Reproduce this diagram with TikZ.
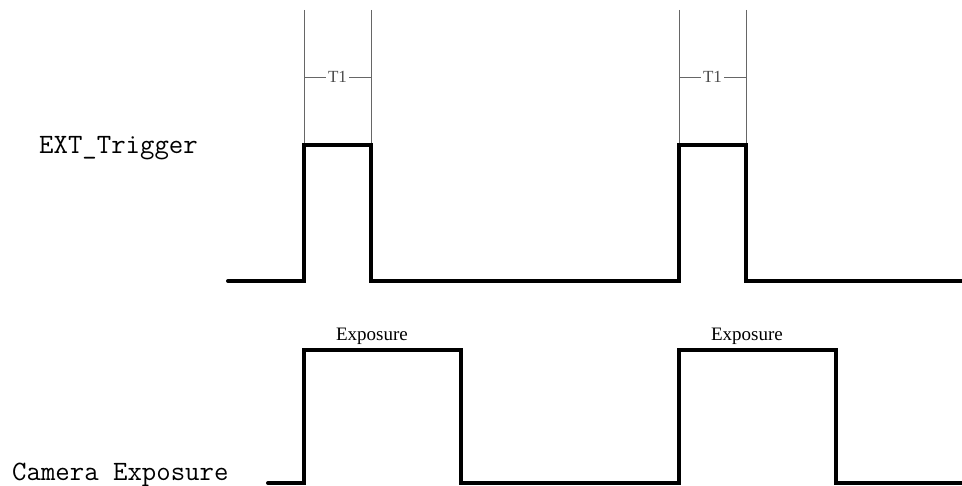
\documentclass[tikz,border=0pt]{standalone}
\usepackage{fontspec}
\setmainfont{Liberation Serif}
\begin{document}
\begin{tikzpicture}[x=1pt,y=-1pt,
    wave/.style={line width=4pt,line cap=round,line join=miter},
    guide/.style={gray!80!black,line width=0.8pt},
    signame/.style={font=\ttfamily\fontsize{28}{28}\selectfont,anchor=base west,inner sep=0pt},
    phase/.style={font=\fontsize{19}{19}\selectfont,anchor=base,inner sep=0pt},
    width/.style={font=\fontsize{17}{17}\selectfont,text=gray!60!black,fill=white,inner sep=2pt}]
  \useasboundingbox (0,0) rectangle (962,486);
  \draw
    (39,154) node[signame] (trig){EXT\_Trigger}
    (12,480) node[signame] (cam){Camera Exposure}
    (372,341) node[phase] (exp1){Exposure}
    (747,341) node[phase] (exp2){Exposure};
  \begin{scope}[guide]
    \draw (304,10) to (304,145);
    \draw (371,10) to (371,145);
    \draw (679,10) to (679,145);
    \draw (746,10) to (746,145);
    \draw (304,77) to node[width] (t1a){T1} (371,77);
    \draw (679,77) to node[width] (t1b){T1} (746,77);
  \end{scope}
  \begin{scope}[wave]
    \draw (228,281) -- (304,281) -- (304,145) -- (371,145) -- (371,281)
      -- (679,281) -- (679,145) -- (746,145) -- (746,281) -- (962,281);
    \draw (268,483) -- (304,483) -- (304,350) -- (461,350) -- (461,483)
      -- (679,483) -- (679,350) -- (836,350) -- (836,483) -- (962,483);
  \end{scope}
\end{tikzpicture}
\end{document}
